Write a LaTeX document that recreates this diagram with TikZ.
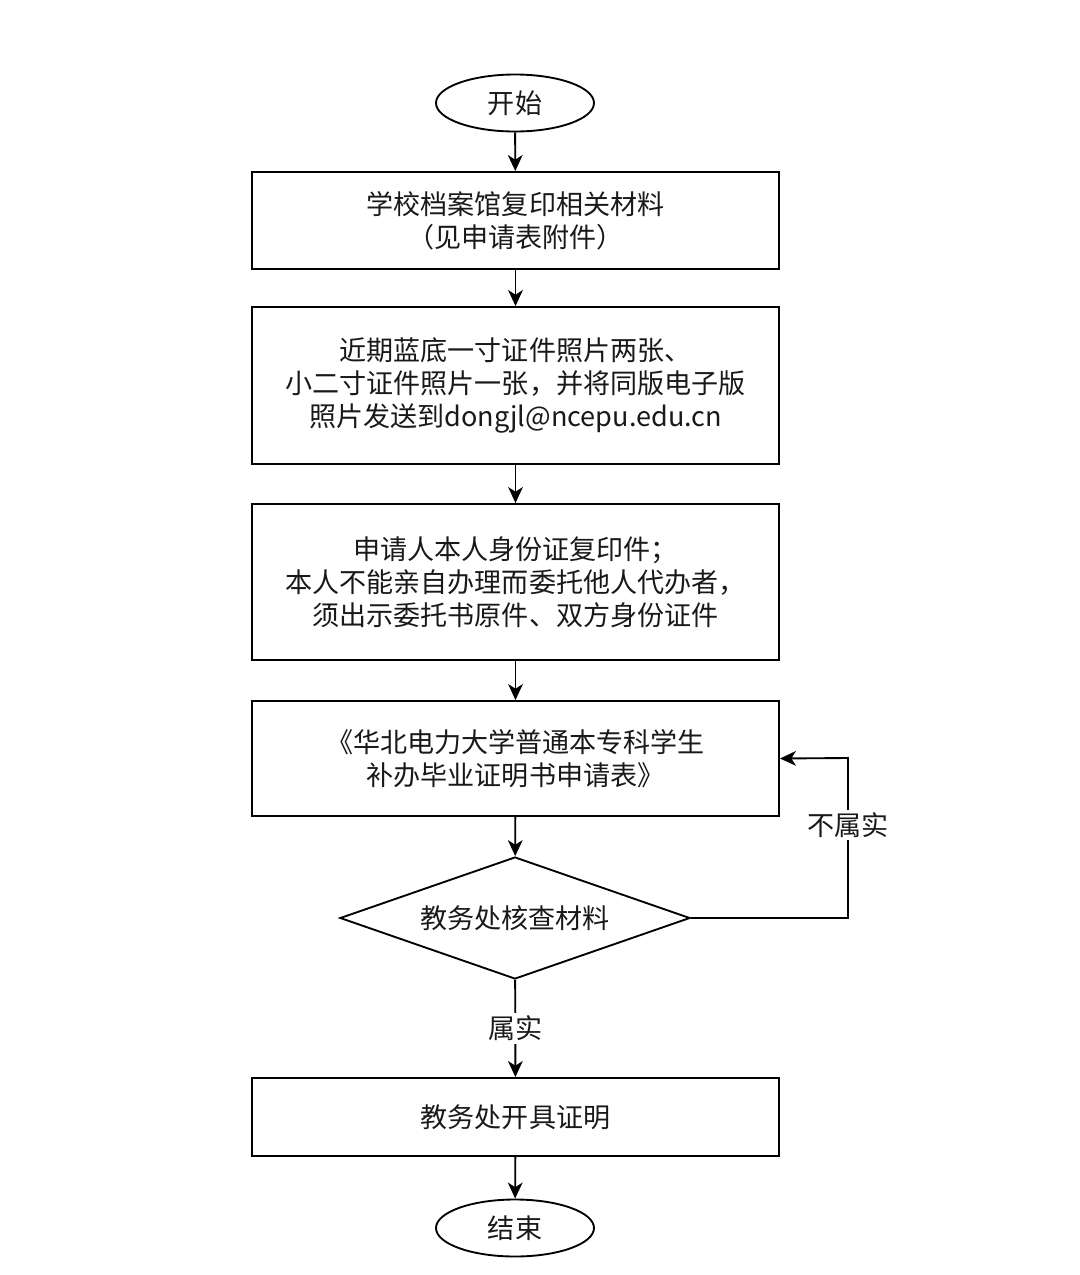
\documentclass[tikz,border=0pt]{standalone}
\usepackage{fontspec}
\setmainfont{Noto Sans CJK SC}
\usetikzlibrary{shapes.geometric,arrows.meta}
\begin{document}
\begin{tikzpicture}[x=0.75pt,y=-0.75pt,
  every node/.style={font=\fontsize{20.3pt}{24.75pt}\selectfont, text=black!90},
  stepbox/.style={draw, line width=1.4pt, rectangle, minimum width=395.25pt, align=center, inner sep=0pt},
  term/.style={draw, line width=1.4pt, ellipse, minimum width=118.5pt, minimum height=42.75pt, inner sep=0pt},
  decide/.style={draw, line width=1.4pt, diamond, aspect=2.87, minimum width=262.5pt, minimum height=91.5pt, inner sep=0pt},
  arr/.style={line width=1.4pt, -{Stealth[length=12pt,width=11pt,inset=3.5pt]}},
  lbl/.style={fill=white, inner sep=2pt}]
\useasboundingbox (0,0) rectangle (1080,1275);
\node[term] (start) at (515,103) {开始};
\node[stepbox, minimum height=72.75pt] (b1) at (515.5,220.5) {学校档案馆复印相关材料\\（见申请表附件）};
\node[stepbox, minimum height=117.75pt] (b2) at (515.5,385.5) {近期蓝底一寸证件照片两张、\\小二寸证件照片一张，并将同版电子版\\照片发送到dongjl@ncepu.edu.cn};
\node[stepbox, minimum height=117pt] (b3) at (515.5,582) {申请人本人身份证复印件；\\本人不能亲自办理而委托他人代办者，\\须出示委托书原件、双方身份证件};
\node[stepbox, minimum height=86.25pt] (b4) at (515.5,758.5) {《华北电力大学普通本专科学生\\补办毕业证明书申请表》};
\node[decide] (dia) at (515,918) {教务处核查材料};
\node[stepbox, minimum height=58.5pt] (b5) at (515.5,1117) {教务处开具证明};
\node[term] (end) at (515,1228) {结束};
\coordinate (c1) at (848,918);
\coordinate (c2) at (848,758);
\draw[arr] (start) -- (b1);
\draw[arr] (b1) -- (b2);
\draw[arr] (b2) -- (b3);
\draw[arr] (b3) -- (b4);
\draw[arr] (b4) -- (dia);
\draw[arr] (dia) -- node[lbl] {属实} (b5);
\draw[arr] (b5) -- (end);
\draw[arr] (dia.east) -- (c1) -- node[lbl, pos=0.58] {不属实} (c2) -- (b4.east);
\end{tikzpicture}
\end{document}
